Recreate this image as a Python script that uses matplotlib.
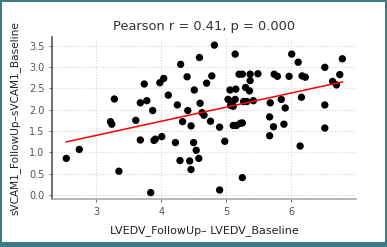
import numpy as np
import matplotlib
matplotlib.use("Agg")
import matplotlib.pyplot as plt
from matplotlib.patches import Rectangle

# LVEDV change (x) vs sVCAM1 change (y)
lvedv = [2.54, 2.74, 3.22, 3.24, 3.28, 3.35, 3.61, 3.68, 3.68, 3.74,
         3.78, 3.84, 3.87, 3.89, 3.91, 3.98, 4.01, 4.04, 4.11, 4.22,
         4.25, 4.29, 4.30, 4.33, 4.40, 4.41, 4.44, 4.46, 4.46, 4.50,
         4.51, 4.54, 4.58, 4.59, 4.60, 4.63, 4.66, 4.70, 4.76, 4.78,
         4.82, 4.90, 4.90, 4.98, 5.03, 5.06, 5.07, 5.10, 5.11, 5.14,
         5.14, 5.15, 5.16, 5.11, 5.20, 5.22, 5.25, 5.25, 5.25, 5.27,
         5.30, 5.32, 5.36, 5.37, 5.37, 5.42, 5.49, 5.67, 5.67, 5.68,
         5.73, 5.74, 5.79, 5.85, 5.89, 5.91, 5.97, 6.01, 6.11, 6.14,
         6.16, 6.17, 6.22, 6.52, 6.52, 6.52, 6.64, 6.70, 6.75, 6.79]
svcam1 = [0.86, 1.07, 1.72, 1.66, 2.25, 0.56, 1.75, 1.29, 2.16, 2.60,
          2.21, 0.06, 1.98, 1.28, 1.31, 2.63, 1.37, 2.73, 2.34, 1.23,
          2.11, 0.81, 3.06, 1.72, 2.77, 1.98, 0.80, 1.62, 0.60, 1.23,
          2.46, 1.05, 0.86, 3.22, 2.15, 1.93, 1.87, 2.62, 1.73, 2.79,
          3.51, 1.59, 0.12, 1.26, 2.24, 2.46, 2.10, 2.19, 1.63, 3.30,
          2.24, 2.48, 1.63, 2.08, 2.83, 1.68, 2.83, 1.69, 0.41, 2.19,
          2.52, 2.19, 2.44, 2.83, 2.68, 2.21, 2.84, 1.83, 1.39, 2.16,
          1.60, 2.83, 2.78, 2.24, 1.66, 2.04, 2.78, 3.30, 3.11, 1.15,
          2.29, 2.79, 2.76, 2.99, 2.11, 1.57, 2.66, 2.58, 2.82, 3.19]

pearson_r = 0.41
p_value = 0.000

x = np.array(lvedv)
y = np.array(svcam1)
slope, icpt = np.polyfit(x, y, 1)
xs = np.array([x.min(), x.max()])

fig = plt.figure(figsize=(3.87, 2.47), dpi=100, facecolor="#3b7b80")
# white card inside the teal frame
card = Rectangle((2 / 387, 5 / 247), 383 / 387, 240 / 247,
                 transform=fig.transFigure, facecolor="white",
                 edgecolor="none", zorder=-5)
fig.add_artist(card)
ax = fig.add_axes([52 / 387, 1 - 199 / 247, 304 / 387, 162 / 247])
ax.set_zorder(2)
ax.set_facecolor("white")

ax.scatter(x, y, s=28, color="black", edgecolors="none", zorder=3)
ax.plot(xs, slope * xs + icpt, color="red", lw=1.1, zorder=4)

ax.set_xlim(2.32, 7.0)
ax.set_ylim(-0.09, 3.7)
ax.set_xticks([3, 4, 5, 6])
ax.set_yticks(np.arange(0, 3.51, 0.5))
ax.yaxis.set_major_formatter(matplotlib.ticker.FormatStrFormatter("%.1f"))
ax.grid(True, ls=":", color="#d4d4d4", lw=0.8)
ax.set_axisbelow(True)

for s in ("top", "right"):
    ax.spines[s].set_visible(False)
ax.spines["left"].set_color("#555555")
ax.spines["left"].set_linewidth(1.2)
ax.spines["bottom"].set_color("#aaaaaa")
ax.spines["bottom"].set_linewidth(1.2)
ax.tick_params(labelsize=7, colors="#555555", length=2, width=0.6)

ax.set_title(f"Pearson r = {pearson_r:.2f}, p = {p_value:.3f}",
             fontsize=9.4, color="#333333", pad=5)
ax.set_xlabel("LVEDV_FollowUp\u2013 LVEDV_Baseline", fontsize=8, color="#222222", labelpad=6)
ax.set_ylabel("sVCAM1_FollowUp\u2013sVCAM1_Baseline", fontsize=7.6, color="#222222", labelpad=6)

fig.savefig("out.png", dpi=100, facecolor=fig.get_facecolor())
